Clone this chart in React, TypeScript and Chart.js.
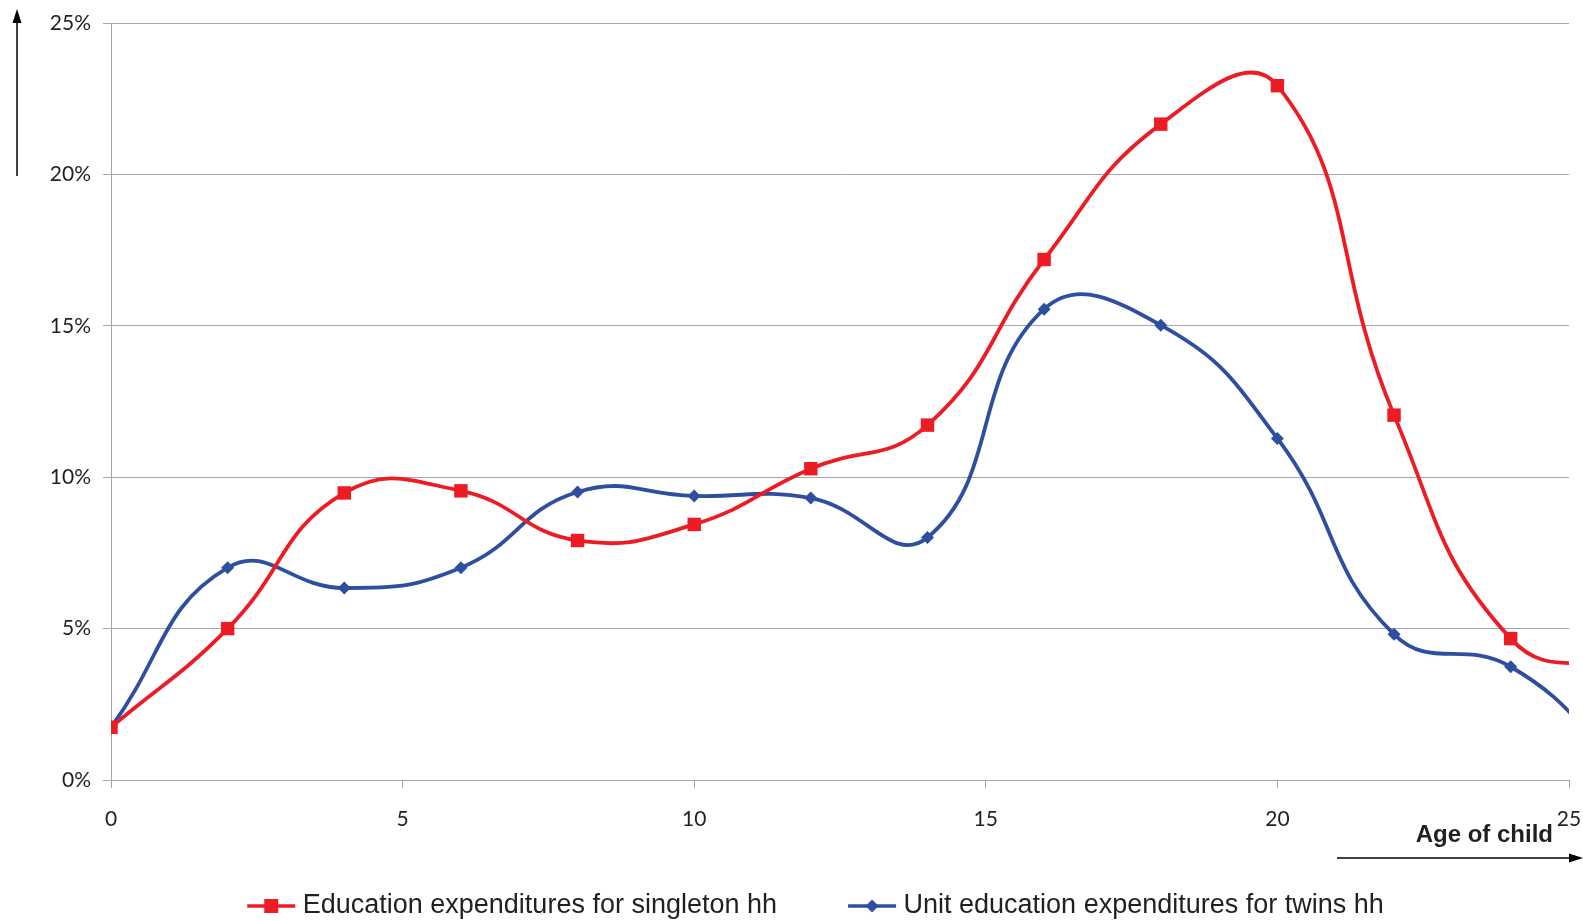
import React, { useEffect, useRef } from "react";
import { Chart, registerables } from "chart.js";

Chart.register(...registerables);

const ages = [0, 2, 4, 6, 8, 10, 12, 14, 16, 18, 20, 22, 24, 26];
const singleton = [1.74, 5.0, 9.48, 9.55, 7.91, 8.44, 10.28, 11.72, 17.19, 21.66, 22.93, 12.05, 4.67, 3.65];
const twins = [1.74, 7.01, 6.34, 7.01, 9.51, 9.38, 9.31, 8.01, 15.55, 15.02, 11.28, 4.81, 3.74, 0.3];
const yTicks = [0, 5, 10, 15, 20, 25];
const xTicks = [0, 5, 10, 15, 20, 25];
const seriesNames = [
  "Education expenditures for singleton hh",
  "Unit education expenditures for twins hh",
];
const xAxisLabel = "Age of child";

const RED = "#ED1C24";
const BLUE = "#2E4F9F";
const TEXT = "#231F20";
const GRID = "#A6A6A6";

function legendIcon(color: string, kind: "square" | "diamond"): HTMLCanvasElement {
  const c = document.createElement("canvas");
  c.width = 50;
  c.height = 16;
  const g = c.getContext("2d")!;
  g.strokeStyle = color;
  g.lineWidth = 3.5;
  g.beginPath();
  g.moveTo(1, 8);
  g.lineTo(49, 8);
  g.stroke();
  g.fillStyle = color;
  if (kind === "square") {
    g.fillRect(18, 1, 14, 14);
  } else {
    g.beginPath();
    g.moveTo(25, 1.5);
    g.lineTo(31.5, 8);
    g.lineTo(25, 14.5);
    g.lineTo(18.5, 8);
    g.closePath();
    g.fill();
  }
  return c;
}

const LEGEND_PAD = 77;

const decorPlugin = {
  id: "decor",
  afterLayout(chart: any) {
    const lg = chart.legend;
    if (lg) {
      lg.left += 34;
      lg.right += 34;
      lg.top = 906 - 13.5 - LEGEND_PAD;
      lg.bottom = 921;
    }
  },
  afterDraw(chart: any) {
    const ctx = chart.ctx;
    ctx.save();
    ctx.strokeStyle = "#000";
    ctx.fillStyle = "#000";
    ctx.lineWidth = 1.5;
    // y arrow
    ctx.beginPath();
    ctx.moveTo(17, 176);
    ctx.lineTo(17, 20);
    ctx.stroke();
    ctx.beginPath();
    ctx.moveTo(17, 9);
    ctx.lineTo(12.5, 23);
    ctx.lineTo(21.5, 23);
    ctx.closePath();
    ctx.fill();
    // x arrow
    ctx.beginPath();
    ctx.moveTo(1337, 858);
    ctx.lineTo(1572, 858);
    ctx.stroke();
    ctx.beginPath();
    ctx.moveTo(1583, 858);
    ctx.lineTo(1569, 853.5);
    ctx.lineTo(1569, 862.5);
    ctx.closePath();
    ctx.fill();
    // axis label
    ctx.font = "bold 24px 'Liberation Sans', Arial, sans-serif";
    ctx.fillStyle = TEXT;
    ctx.textAlign = "right";
    ctx.textBaseline = "alphabetic";
    ctx.fillText(xAxisLabel, 1553, 842);
    ctx.restore();
  },
};

export default function App() {
  const ref = useRef<HTMLCanvasElement>(null);
  useEffect(() => {
    document.body.style.margin = "0";
    const icons = [legendIcon(RED, "square"), legendIcon(BLUE, "diamond")];
    const chart = new Chart(ref.current!, {
      type: "line",
      data: {
        datasets: [
          {
            label: seriesNames[0],
            data: ages.map((a, i) => ({ x: a, y: singleton[i] })),
            borderColor: RED,
            backgroundColor: RED,
            borderWidth: 3.8,
            pointStyle: "rect",
            pointRadius: 9.5,
            pointBorderWidth: 0,
            tension: 0.46,
          },
          {
            label: seriesNames[1],
            data: ages.map((a, i) => ({ x: a, y: twins[i] })),
            borderColor: BLUE,
            backgroundColor: BLUE,
            borderWidth: 3.8,
            pointStyle: "rectRot",
            pointRadius: 6.5,
            pointBorderWidth: 0,
            tension: 0.46,
          },
        ],
      },
      options: {
        animation: false,
        responsive: true,
        maintainAspectRatio: false,
        layout: { padding: { left: 0, right: 14, top: 23, bottom: 0 } },
        scales: {
          x: {
            type: "linear",
            min: 0,
            max: 25,
            afterBuildTicks: (s: any) => {
              s.ticks = xTicks.map((v) => ({ value: v }));
            },
            afterFit: (s: any) => {
              s.height = 59;
              s.paddingLeft = 0;
              s.paddingRight = 0;
            },
            grid: {
              drawOnChartArea: false,
              drawTicks: true,
              tickLength: 8,
              color: GRID,
            },
            border: { display: true, color: GRID },
            ticks: {
              color: TEXT,
              font: { family: "Lato", size: 21 },
              padding: 19,
              maxRotation: 0,
            },
          },
          y: {
            min: 0,
            max: 25,
            afterBuildTicks: (s: any) => {
              s.ticks = yTicks.map((v) => ({ value: v }));
            },
            afterFit: (s: any) => {
              s.width = 111;
              s.paddingTop = 0;
              s.paddingBottom = 0;
            },
            grid: { color: GRID, tickLength: 8, lineWidth: 1 },
            border: { display: true, color: GRID },
            ticks: {
              color: TEXT,
              font: { family: "Lato", size: 21 },
              padding: 12,
              callback: (v: any) => v + "%",
            },
          },
        },
        plugins: {
          tooltip: { enabled: false },
          legend: {
            position: "bottom",
            maxHeight: 82,
            labels: {
              usePointStyle: true,
              pointStyleWidth: 36,
              padding: LEGEND_PAD,
              color: TEXT,
              font: { family: "'Liberation Sans', Arial, sans-serif", size: 27 },
              generateLabels: (ch: any) => {
                const items = Chart.defaults.plugins.legend.labels.generateLabels(ch);
                return items.map((it: any, i: number) => ({ ...it, pointStyle: icons[i] }));
              },
            },
          },
        },
      },
      plugins: [decorPlugin],
    });
    return () => chart.destroy();
  }, []);
  return (
    <div style={{ position: "fixed", left: 0, top: 0, width: 1583, height: 921 }}>
      <canvas ref={ref} />
    </div>
  );
}
